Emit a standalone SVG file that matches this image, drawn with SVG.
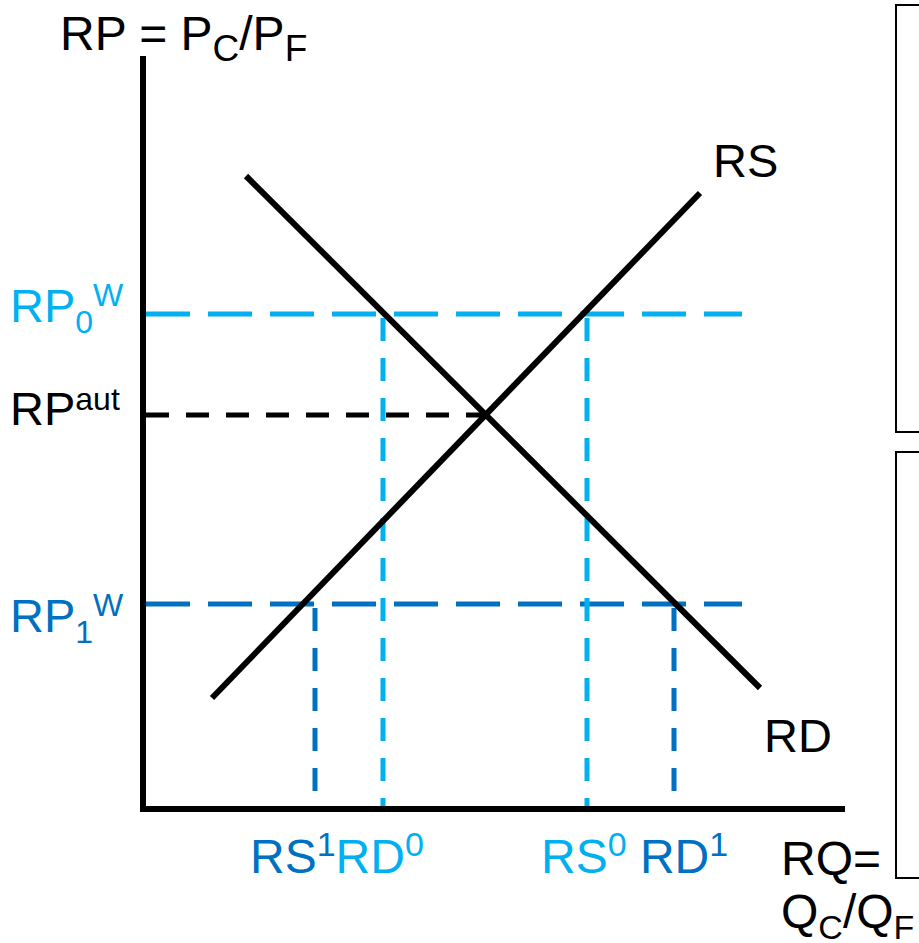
<svg xmlns="http://www.w3.org/2000/svg" width="919" height="943" viewBox="0 0 919 943">
<style>
text{font-family:"Liberation Sans",Arial,sans-serif;font-size:47px;fill:#000}
.lb{fill:#00B0F0}
.db{fill:#0070C0}
.sm{font-size:32px}
.big{font-size:48px}
.bsm{font-size:34px}
.tsm{font-size:37px}
.axis{stroke:#000;stroke-width:6;fill:none}
.curve{stroke:#000;stroke-width:6;fill:none}
.hlong{stroke-width:5;stroke-dasharray:44 18;fill:none}
.vdash{stroke-width:5;stroke-dasharray:23 17;fill:none}
.box{fill:none;stroke:#000;stroke-width:2}
</style>
<rect width="919" height="943" fill="#fff"/>
<g id="boxes">
<rect class="box" x="896" y="5" width="40" height="427"/>
<rect class="box" x="896" y="452" width="40" height="426"/>
</g>
<g id="connectors">
<path class="hlong" stroke="#00B0F0" d="M146 314H742"/>
<path class="hlong" stroke="#0070C0" d="M146 604H742"/>
<path class="vdash" stroke="#000" d="M146 415H486"/>
<path class="vdash" stroke="#00B0F0" d="M383 318V809"/>
<path class="vdash" stroke="#00B0F0" d="M587 318V809"/>
<path class="vdash" stroke="#0070C0" d="M315 608V809"/>
<path class="vdash" stroke="#0070C0" d="M674 608V809"/>
</g>
<g id="axes">
<path class="axis" d="M143 56V809H845"/>
</g>
<g id="RD">
<path class="curve" d="M246 176L760 688"/>
<text x="764" y="752">RD</text>
</g>
<g id="RS">
<path class="curve" d="M212 698L700 193"/>
<text x="713" y="177">RS</text>
</g>
<g id="ylabel">
<text class="big" x="60" y="50">RP = P<tspan class="tsm" dy="11">C</tspan><tspan dy="-11">/P</tspan><tspan class="tsm" dy="11">F</tspan></text>
</g>
<g id="RP0W">
<text class="lb" x="10" y="322">RP<tspan class="sm" dy="11">0</tspan><tspan class="sm" dy="-27">W</tspan></text>
</g>
<g id="RPaut">
<text x="10" y="425">RP<tspan class="sm" dy="-15">aut</tspan></text>
</g>
<g id="RP1W">
<text class="db" x="10" y="632">RP<tspan class="sm" dy="11">1</tspan><tspan class="sm" dy="-27">W</tspan></text>
</g>
<g id="xlabels">
<text class="big" x="250" y="873"><tspan class="db">RS</tspan><tspan class="db bsm" dy="-17">1</tspan><tspan class="lb" dy="17">RD</tspan><tspan class="lb bsm" dy="-17">0</tspan></text>
<text class="big" x="541" y="873"><tspan class="lb">RS</tspan><tspan class="lb bsm" dy="-17">0</tspan><tspan class="db" dy="17"> RD</tspan><tspan class="db bsm" dy="-17">1</tspan></text>
</g>
<g id="xaxislabel">
<text class="big" x="781" y="875">RQ=</text>
<text class="big" x="781" y="928">Q<tspan class="bsm" dy="11">C</tspan><tspan dy="-11">/Q</tspan><tspan class="bsm" dy="11">F</tspan></text>
</g>
</svg>
